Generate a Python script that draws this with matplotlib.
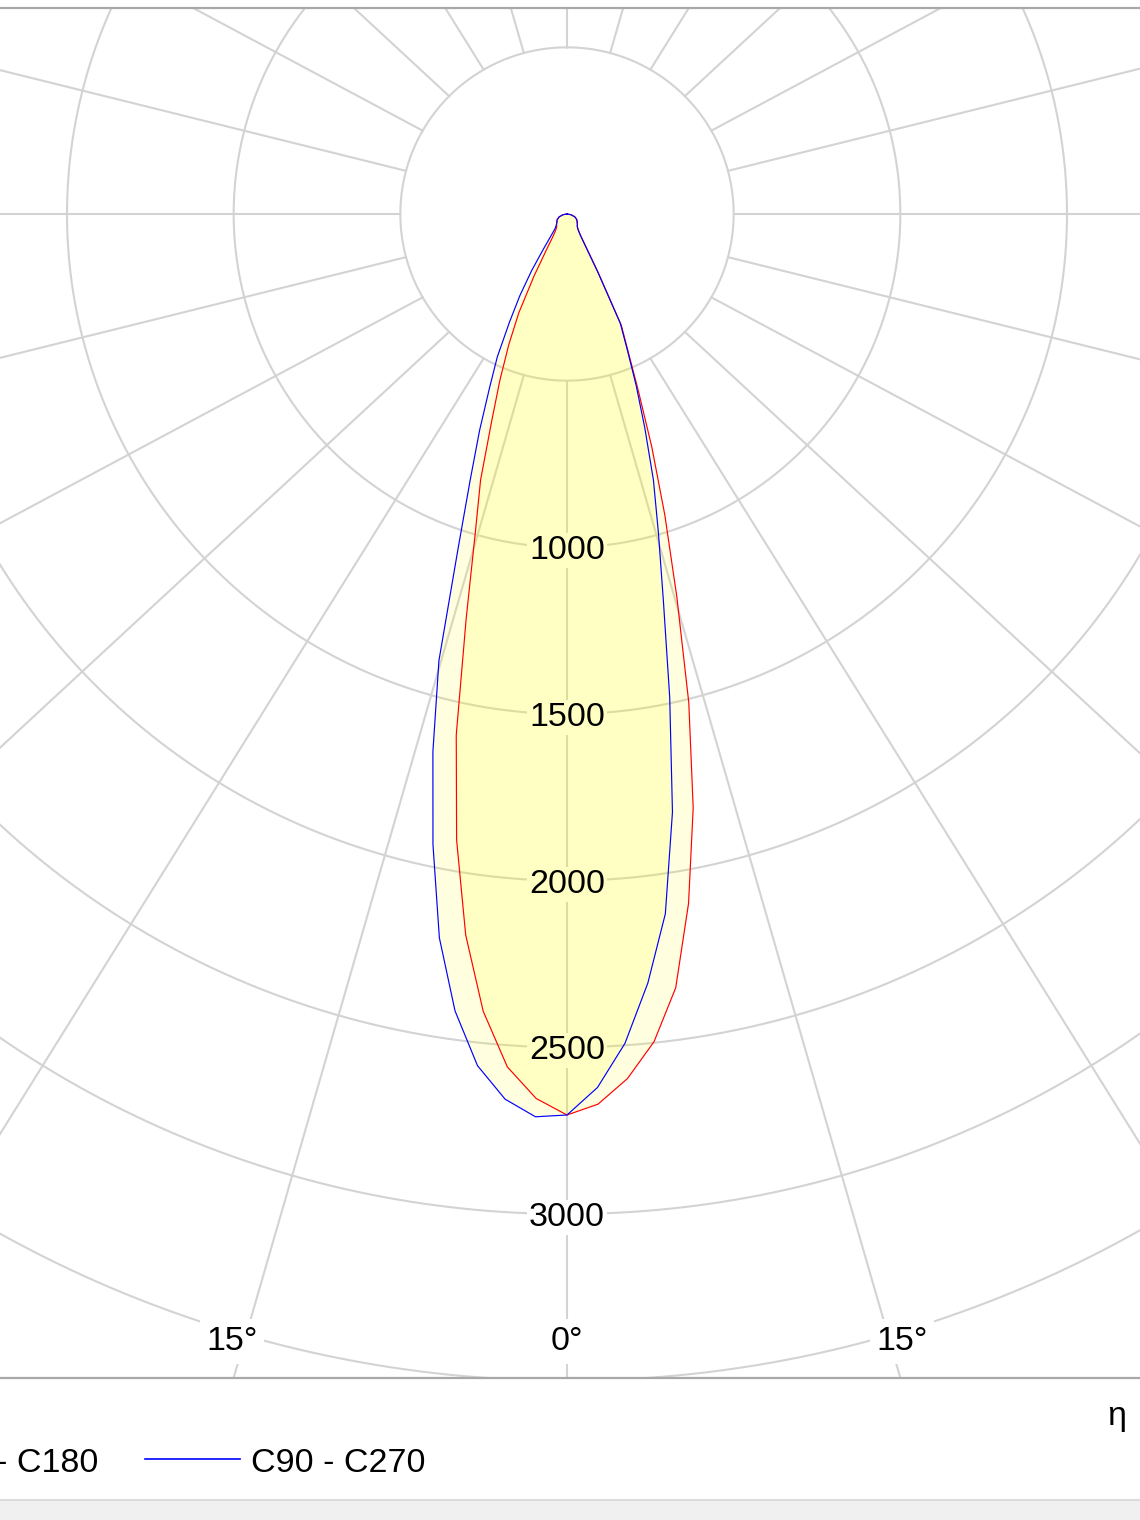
import numpy as np
import matplotlib
matplotlib.use("Agg")
import matplotlib.pyplot as plt
from matplotlib.lines import Line2D
from matplotlib.patches import Rectangle

plt.rcParams['font.family'] = ['Liberation Sans', 'DejaVu Sans']

# ---------------- data ----------------
gamma = [0, 2, 4, 6, 8, 10, 12, 14, 16, 18, 20, 22, 24, 26, 28, 30, 32, 34, 36, 38, 40, 45, 50, 60, 70, 80, 90]
c0 = [2703, 2672, 2600, 2497, 2344, 2100, 1821, 1510, 1196, 950, 744, 570, 450, 372, 200, 112, 78, 64, 56, 51, 48, 44, 40, 34, 25, 12, 0]
c180 = [2703, 2655, 2565, 2405, 2184, 1907, 1598, 1250, 1000, 839, 660, 537, 430, 330, 210, 120, 80, 64, 56, 51, 48, 44, 40, 34, 25, 12, 0]
c90 = [2703, 2622, 2494, 2320, 2120, 1822, 1482, 1195, 995, 839, 682, 553, 443, 365, 195, 110, 78, 64, 56, 51, 48, 44, 40, 34, 25, 12, 0]
c270 = [2703, 2710, 2662, 2569, 2414, 2205, 1934, 1663, 1394, 1060, 849, 700, 572, 477, 368, 283, 200, 125, 85, 64, 54, 45, 40, 34, 25, 12, 0]

ring_values = [500, 1000, 1500, 2000, 2500, 3000, 3500, 4000, 4500]
ring_labels = [1000, 1500, 2000, 2500, 3000]
angle_label_text = ['15°', '0°', '15°']
angle_label_x = [-1005, 0, 1005]
legend_labels = ['C0 - C180', 'C90 - C270']
legend_colors = ['#ff0000', '#0000ff']

# ---------------- figure ----------------
W, H = 1140, 1520
fig = plt.figure(figsize=(W / 100, H / 100), dpi=100)
fig.patch.set_facecolor('white')

top_px, bot_px = 8, 1378
cx_px, cy_px = 567, 214
cd_per_px = 3.0

ax = fig.add_axes([0, 1 - bot_px / H, 1, (bot_px - top_px) / H])
ax.set_xlim(-cx_px * cd_per_px, (W - cx_px) * cd_per_px)
ax.set_ylim(-(bot_px - cy_px) * cd_per_px, (cy_px - top_px) * cd_per_px)
ax.set_xticks([])
ax.set_yticks([])
for s in ['left', 'right']:
    ax.spines[s].set_visible(False)
for s in ['top', 'bottom']:
    ax.spines[s].set_color('#a8a8a8')
    ax.spines[s].set_linewidth(1.6)

grid_c = '#d3d3d3'
t = np.linspace(0, 2 * np.pi, 1441)
for r in ring_values:
    ax.plot(r * np.sin(t), r * np.cos(t), color=grid_c, lw=1.5, zorder=1)

# radial grid lines: from the 500 ring outwards (outer ends slightly widened as in the source)
r_in, r_out, widen = 500, 4000, 1.07
for a in range(0, 360, 15):
    ar = np.radians(a)
    ax.plot([r_in * np.sin(ar), widen * r_out * np.sin(ar)],
            [-r_in * np.cos(ar), -r_out * np.cos(ar)],
            color=grid_c, lw=1.5, zorder=1)

g = np.radians(np.array(gamma, dtype=float))


def polygon(left, right):
    left = np.array(left, dtype=float)
    right = np.array(right, dtype=float)
    x = np.concatenate([-left[::-1] * np.sin(g[::-1]), right[1:] * np.sin(g[1:])])
    y = np.concatenate([-left[::-1] * np.cos(g[::-1]), -right[1:] * np.cos(g[1:])])
    return x, y


fill_alpha = 0.125
for (left, right), col in zip([(c180, c0), (c270, c90)], legend_colors):
    x, y = polygon(left, right)
    ax.fill(x, y, color='#ffff00', alpha=fill_alpha, lw=0, zorder=2)
for (left, right), col in zip([(c180, c0), (c270, c90)], legend_colors):
    x, y = polygon(left, right)
    ax.plot(x, y, color=col, lw=0.85, zorder=3, solid_joinstyle='round')

# colour of doubly covered fill
b = 1 - (1 - fill_alpha) ** 2
double_col = (1.0, 1.0, 1.0 - b)

fs = 24.5
for v in ring_labels:
    fc = double_col if v <= 2500 else 'white'
    ax.text(0, -v, str(v), ha='center', va='center_baseline', fontsize=fs, color='black', zorder=5,
            bbox=dict(boxstyle='square,pad=0.06', fc=fc, ec='none'))

for txt, xv in zip(angle_label_text, angle_label_x):
    ax.text(xv, -3372, txt, ha='center', va='center_baseline', fontsize=fs, color='black', zorder=5,
            bbox=dict(boxstyle='square,pad=0.2', fc='white', ec='none'))

# ---------------- legend / footer ----------------
def fx(px):
    return px / W


def fy(py):
    return 1 - py / H


leg_y = 1459
fig.add_artist(Line2D([fx(-250), fx(-155)], [fy(leg_y)] * 2, color=legend_colors[0], lw=1.2))
fig.text(fx(98), fy(leg_y + 1), legend_labels[0], ha='right', va='center_baseline', fontsize=fs)
fig.add_artist(Line2D([fx(145), fx(240)], [fy(leg_y)] * 2, color=legend_colors[1], lw=1.2))
fig.text(fx(251), fy(leg_y + 1), legend_labels[1], ha='left', va='center_baseline', fontsize=fs)

fig.text(fx(1117), fy(1416), 'η', ha='center', va='center', fontsize=fs)

fig.add_artist(Rectangle((0, 0), 1, 20 / H, transform=fig.transFigure, fc='#f0f0f0', ec='none'))
fig.add_artist(Line2D([0, 1], [fy(1500)] * 2, color='#dcdcdc', lw=1.5))

fig.savefig('out.png', dpi=100, facecolor='white')
